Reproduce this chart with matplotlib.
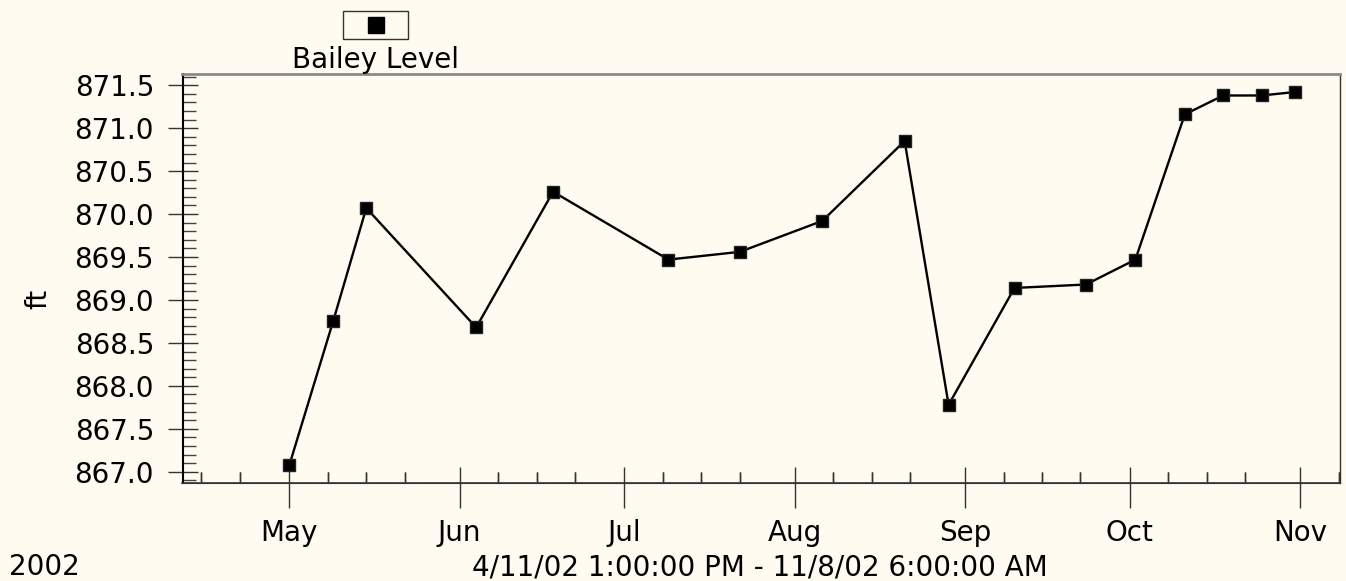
import matplotlib
matplotlib.use("Agg")
import matplotlib.pyplot as plt
import matplotlib.dates as mdates
from matplotlib.ticker import MultipleLocator, FormatStrFormatter
from matplotlib.patches import Rectangle
from matplotlib.lines import Line2D
import pandas as pd

# data
dates = pd.to_datetime([
    "2002-05-01", "2002-05-09", "2002-05-15", "2002-06-04", "2002-06-18",
    "2002-07-09", "2002-07-22", "2002-08-06", "2002-08-21", "2002-08-29",
    "2002-09-10", "2002-09-23", "2002-10-02", "2002-10-11", "2002-10-18",
    "2002-10-25", "2002-10-31",
])
levels = [867.08, 868.76, 870.07, 868.68, 870.26,
          869.47, 869.56, 869.92, 870.85, 867.78,
          869.14, 869.18, 869.47, 871.16, 871.38,
          871.38, 871.42]
series_name = "Bailey Level"
unit = "ft"
year_label = "2002"
range_label = "4/11/02 1:00:00 PM - 11/8/02 6:00:00 AM"
x_start = pd.Timestamp("2002-04-11 13:00")
x_end = pd.Timestamp("2002-11-08 06:00")

bg = "#fffbf0"
plt.rcParams["font.family"] = ["DejaVu Sans"]
fs = 20

fig = plt.figure(figsize=(13.46, 5.81), dpi=100, facecolor=bg)
ax = fig.add_axes([182.5 / 1346, 1 - 483 / 581, (1340 - 182.5) / 1346, (483 - 74) / 581])
ax.set_facecolor(bg)

ax.plot(dates, levels, color="black", lw=1.7, marker="s", markersize=9.2,
        markerfacecolor="black", markeredgecolor="#222222", zorder=3)

ax.set_xlim(x_start, x_end)
ax.set_ylim(866.87, 871.63)

# y axis
ax.yaxis.set_major_locator(MultipleLocator(0.5))
ax.yaxis.set_minor_locator(MultipleLocator(0.1))
ax.yaxis.set_major_formatter(FormatStrFormatter("%.1f"))
ax.tick_params(axis="y", which="major", direction="inout", length=20.9, width=1,
               color="#333333", labelsize=fs, pad=10)
ax.tick_params(axis="y", which="minor", direction="in", length=9.4, width=1, color="#444444")

# x axis, outer part of month ticks plus labels
ax.xaxis.set_major_locator(mdates.MonthLocator())
ax.xaxis.set_major_formatter(mdates.DateFormatter("%b"))
ax.xaxis.set_minor_locator(mdates.DayLocator(bymonthday=[8, 15, 22]))
ax.tick_params(axis="x", which="major", direction="out", length=18, width=1,
               color="#333333", labelsize=fs, pad=8)
ax.tick_params(axis="x", which="minor", direction="in", length=7.6, width=1, color="#333333")

# inner part of month ticks
sec = ax.secondary_xaxis("bottom")
sec.xaxis.set_major_locator(mdates.MonthLocator())
sec.xaxis.set_minor_locator(mdates.DayLocator(bymonthday=[8, 15, 22]))
sec.tick_params(axis="x", which="major", direction="in", length=11.2, width=1,
                color="#333333", labelbottom=False)
sec.tick_params(axis="x", which="minor", direction="in", length=7.6, width=1,
                color="#333333", labelbottom=False)
sec.spines["bottom"].set_color("#333333")

ax.spines["left"].set_color("black")
ax.spines["left"].set_linewidth(1.5)
ax.spines["bottom"].set_color("#333333")
ax.spines["bottom"].set_linewidth(1.2)
ax.spines["top"].set_color("#8a8a8a")
ax.spines["top"].set_linewidth(2)
ax.spines["right"].set_color("#333333")
ax.spines["right"].set_linewidth(1)

ax.set_ylabel(unit, fontsize=fs)
ax.yaxis.set_label_coords((52 - 182.5) / 1157.5, (483 - 299) / 409)

fig.text(9 / 1346, 1 - 575 / 581, year_label, fontsize=fs, ha="left", va="baseline")
fig.text(760 / 1346, 1 - 575 / 581, range_label, fontsize=fs, ha="center", va="baseline")

# legend: small boxed marker with the name underneath
fig.add_artist(Rectangle((343 / 1346, 1 - 39 / 581), 65 / 1346, 28 / 581,
                         transform=fig.transFigure, facecolor="none",
                         edgecolor="#333333", lw=1))
fig.add_artist(Line2D([375.5 / 1346], [1 - 25 / 581], transform=fig.transFigure,
                      marker="s", markersize=12, color="black", linestyle="none"))
fig.text(375.5 / 1346, 1 - 68 / 581, series_name, fontsize=fs, ha="center", va="baseline")

fig.savefig("out.png", dpi=100, facecolor=bg)
